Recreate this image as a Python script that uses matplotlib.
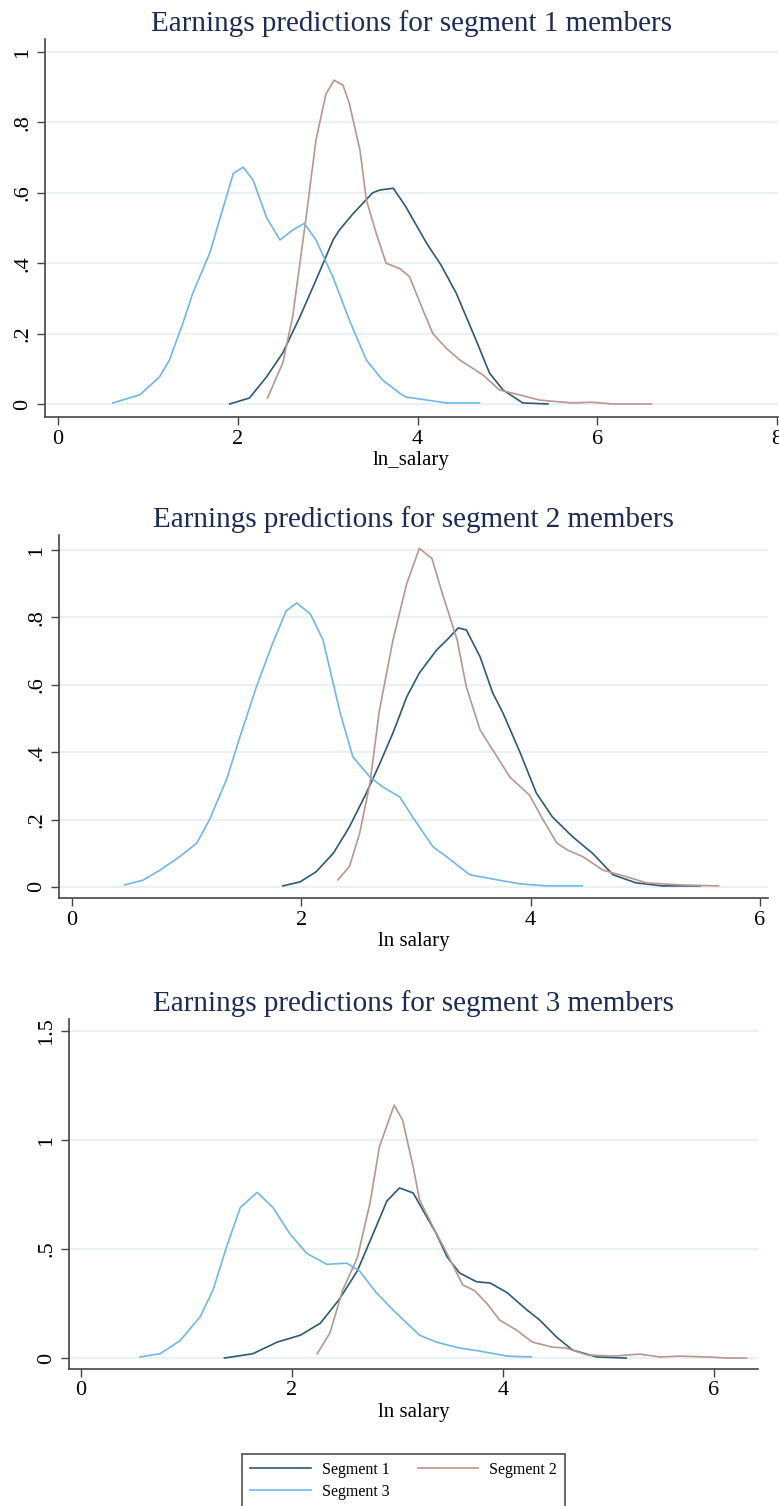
import numpy as np
import matplotlib
matplotlib.use('Agg')
import matplotlib.pyplot as plt

plt.rcParams['font.family'] = ['Liberation Serif', 'DejaVu Serif']

# ---- panel 1: segment 1 members ----
p1_s1_x = [1.91, 2.13, 2.32, 2.50, 2.69, 2.87, 3.06, 3.13, 3.28, 3.50, 3.58, 3.73, 3.87, 4.10, 4.26, 4.43, 4.65, 4.80, 4.95, 5.17, 5.45]
p1_s1_y = [0.0, 0.017, 0.077, 0.145, 0.247, 0.352, 0.466, 0.494, 0.54, 0.60, 0.608, 0.613, 0.56, 0.457, 0.395, 0.315, 0.182, 0.088, 0.04, 0.003, 0.0]
p1_s2_x = [2.33, 2.50, 2.61, 2.76, 2.87, 2.98, 3.07, 3.17, 3.24, 3.36, 3.43, 3.54, 3.65, 3.80, 3.91, 4.06, 4.17, 4.32, 4.47, 4.73, 4.91, 5.13, 5.36, 5.72, 5.94, 6.17, 6.60]
p1_s2_y = [0.017, 0.116, 0.247, 0.53, 0.75, 0.88, 0.92, 0.906, 0.855, 0.72, 0.58, 0.485, 0.40, 0.385, 0.362, 0.267, 0.20, 0.158, 0.125, 0.082, 0.04, 0.026, 0.011, 0.003, 0.005, 0.0, 0.0]
p1_s3_x = [0.61, 0.91, 1.13, 1.24, 1.39, 1.50, 1.69, 1.84, 1.95, 2.06, 2.17, 2.32, 2.47, 2.61, 2.74, 2.87, 3.06, 3.24, 3.43, 3.61, 3.80, 3.87, 4.32, 4.69]
p1_s3_y = [0.003, 0.026, 0.077, 0.125, 0.23, 0.315, 0.43, 0.56, 0.655, 0.673, 0.636, 0.53, 0.466, 0.494, 0.513, 0.466, 0.36, 0.239, 0.125, 0.068, 0.031, 0.02, 0.003, 0.003]

# ---- panel 2: segment 2 members ----
p2_s1_x = [1.84, 1.99, 2.13, 2.28, 2.42, 2.57, 2.69, 2.80, 2.92, 3.03, 3.18, 3.27, 3.37, 3.44, 3.56, 3.67, 3.76, 3.91, 4.05, 4.19, 4.37, 4.54, 4.72, 4.92, 5.15, 5.48]
p2_s1_y = [0.003, 0.015, 0.045, 0.10, 0.178, 0.28, 0.37, 0.457, 0.564, 0.635, 0.703, 0.733, 0.769, 0.763, 0.683, 0.576, 0.516, 0.398, 0.279, 0.208, 0.148, 0.10, 0.036, 0.012, 0.003, 0.003]
p2_s2_x = [2.32, 2.42, 2.51, 2.60, 2.68, 2.80, 2.92, 3.03, 3.14, 3.23, 3.36, 3.44, 3.56, 3.67, 3.82, 3.99, 4.11, 4.23, 4.32, 4.46, 4.63, 4.87, 5.01, 5.30, 5.64]
p2_s2_y = [0.021, 0.06, 0.16, 0.309, 0.52, 0.733, 0.90, 1.005, 0.975, 0.872, 0.733, 0.594, 0.466, 0.407, 0.326, 0.273, 0.199, 0.13, 0.11, 0.089, 0.05, 0.027, 0.012, 0.006, 0.003]
p2_s3_x = [0.46, 0.62, 0.77, 0.94, 1.09, 1.20, 1.35, 1.46, 1.61, 1.75, 1.87, 1.96, 2.08, 2.19, 2.34, 2.45, 2.60, 2.71, 2.86, 2.97, 3.15, 3.27, 3.47, 3.71, 3.91, 4.14, 4.45]
p2_s3_y = [0.006, 0.02, 0.05, 0.09, 0.13, 0.20, 0.32, 0.44, 0.595, 0.723, 0.82, 0.843, 0.81, 0.733, 0.516, 0.386, 0.326, 0.297, 0.267, 0.208, 0.119, 0.089, 0.036, 0.021, 0.009, 0.003, 0.003]

# ---- panel 3: segment 3 members ----
p3_s1_x = [1.36, 1.63, 1.86, 2.08, 2.27, 2.45, 2.62, 2.77, 2.90, 3.02, 3.15, 3.24, 3.37, 3.47, 3.59, 3.75, 3.88, 4.04, 4.23, 4.35, 4.51, 4.66, 4.89, 5.17]
p3_s1_y = [0.0, 0.02, 0.073, 0.105, 0.16, 0.27, 0.40, 0.57, 0.72, 0.78, 0.757, 0.68, 0.57, 0.465, 0.39, 0.35, 0.344, 0.30, 0.22, 0.174, 0.096, 0.037, 0.005, 0.0]
p3_s2_x = [2.24, 2.36, 2.48, 2.62, 2.74, 2.83, 2.97, 3.05, 3.15, 3.21, 3.34, 3.47, 3.62, 3.73, 3.85, 3.97, 4.13, 4.28, 4.47, 4.60, 4.80, 5.04, 5.30, 5.49, 5.68, 5.99, 6.12, 6.31]
p3_s2_y = [0.02, 0.115, 0.31, 0.46, 0.71, 0.97, 1.16, 1.09, 0.876, 0.725, 0.60, 0.48, 0.335, 0.31, 0.25, 0.174, 0.128, 0.073, 0.05, 0.046, 0.014, 0.009, 0.018, 0.005, 0.009, 0.004, 0.0, 0.0]
p3_s3_x = [0.56, 0.75, 0.94, 1.13, 1.25, 1.38, 1.51, 1.67, 1.82, 1.98, 2.14, 2.33, 2.52, 2.64, 2.80, 2.96, 3.09, 3.21, 3.37, 3.59, 3.78, 4.04, 4.27]
p3_s3_y = [0.005, 0.02, 0.08, 0.19, 0.31, 0.51, 0.69, 0.76, 0.69, 0.57, 0.48, 0.43, 0.435, 0.40, 0.30, 0.22, 0.16, 0.105, 0.073, 0.046, 0.032, 0.009, 0.005]

titles = ['Earnings predictions for segment 1 members',
          'Earnings predictions for segment 2 members',
          'Earnings predictions for segment 3 members']
xlabels = ['ln_salary', 'ln salary', 'ln salary']
xticks = [[0, 2, 4, 6, 8], [0, 2, 4, 6], [0, 2, 4, 6]]
yticks = [[0, .2, .4, .6, .8, 1], [0, .2, .4, .6, .8, 1], [0, .5, 1, 1.5]]
yticklabels = [['0', '.2', '.4', '.6', '.8', '1'], ['0', '.2', '.4', '.6', '.8', '1'], ['0', '.5', '1', '1.5']]
labels = ['Segment 1', 'Segment 2', 'Segment 3']

c1 = '#2e5977'
c2 = '#b9978e'
c3 = '#70b7e7'
title_col = '#1d2b55'
axis_col = '#444444'

data = [
    [(p1_s1_x, p1_s1_y), (p1_s2_x, p1_s2_y), (p1_s3_x, p1_s3_y)],
    [(p2_s1_x, p2_s1_y), (p2_s2_x, p2_s2_y), (p2_s3_x, p2_s3_y)],
    [(p3_s1_x, p3_s1_y), (p3_s2_x, p3_s2_y), (p3_s3_x, p3_s3_y)],
]

# axes rectangles in figure fraction
rects = [[0.0578, 0.7231, 0.941, 0.251],
         [0.0757, 0.4037, 0.910, 0.2411],
         [0.0886, 0.0910, 0.8845, 0.2324]]
xlims = [(-0.144, 8.01), (-0.113, 6.07), (-0.114, 6.42)]
ylims = [(-0.037, 1.037), (-0.033, 1.045), (-0.05, 1.555)]

fig = plt.figure(figsize=(7.79, 15.06), dpi=100)

cols = [c1, c2, c3]
lines = []
for i in range(3):
    ax = fig.add_axes(rects[i])
    ax.set_yticks(yticks[i])
    ax.set_yticklabels(yticklabels[i], rotation=90, va='center')
    ax.set_xticks(xticks[i])
    ax.yaxis.grid(True, color='#e9f1f3', linewidth=1.6)
    ax.set_axisbelow(True)
    hs = []
    for k in range(3):
        x, y = data[i][k]
        h, = ax.plot(x, y, color=cols[k], linewidth=1.2, label=labels[k])
        hs.append(h)
    lines = hs
    ax.set_xlim(xlims[i])
    ax.set_ylim(ylims[i])
    for s in ['top', 'right']:
        ax.spines[s].set_visible(False)
    for s in ['left', 'bottom']:
        ax.spines[s].set_color(axis_col)
        ax.spines[s].set_linewidth(1.2)
    ax.tick_params(axis='both', labelsize=16, length=6, width=1, color=axis_col, pad=3)
    ax.set_title(titles[i], fontsize=21, color=title_col, pad=6)
    ax.set_xlabel(xlabels[i], fontsize=15, labelpad=2)

leg = fig.legend([lines[0], lines[2], lines[1]], ['Segment 1', 'Segment 3', 'Segment 2'],
                 ncol=2, loc='upper left', bbox_to_anchor=(242 / 779, 1 - 1454 / 1506),
                 fontsize=11.5, frameon=True, fancybox=False, handlelength=3.8,
                 handletextpad=0.7, columnspacing=1.75, borderpad=0.5, labelspacing=0.35,
                 borderaxespad=0)
leg.get_frame().set_edgecolor('#222222')
leg.get_frame().set_linewidth(1.2)

plt.savefig('out.png', dpi=100)
plt.close()
